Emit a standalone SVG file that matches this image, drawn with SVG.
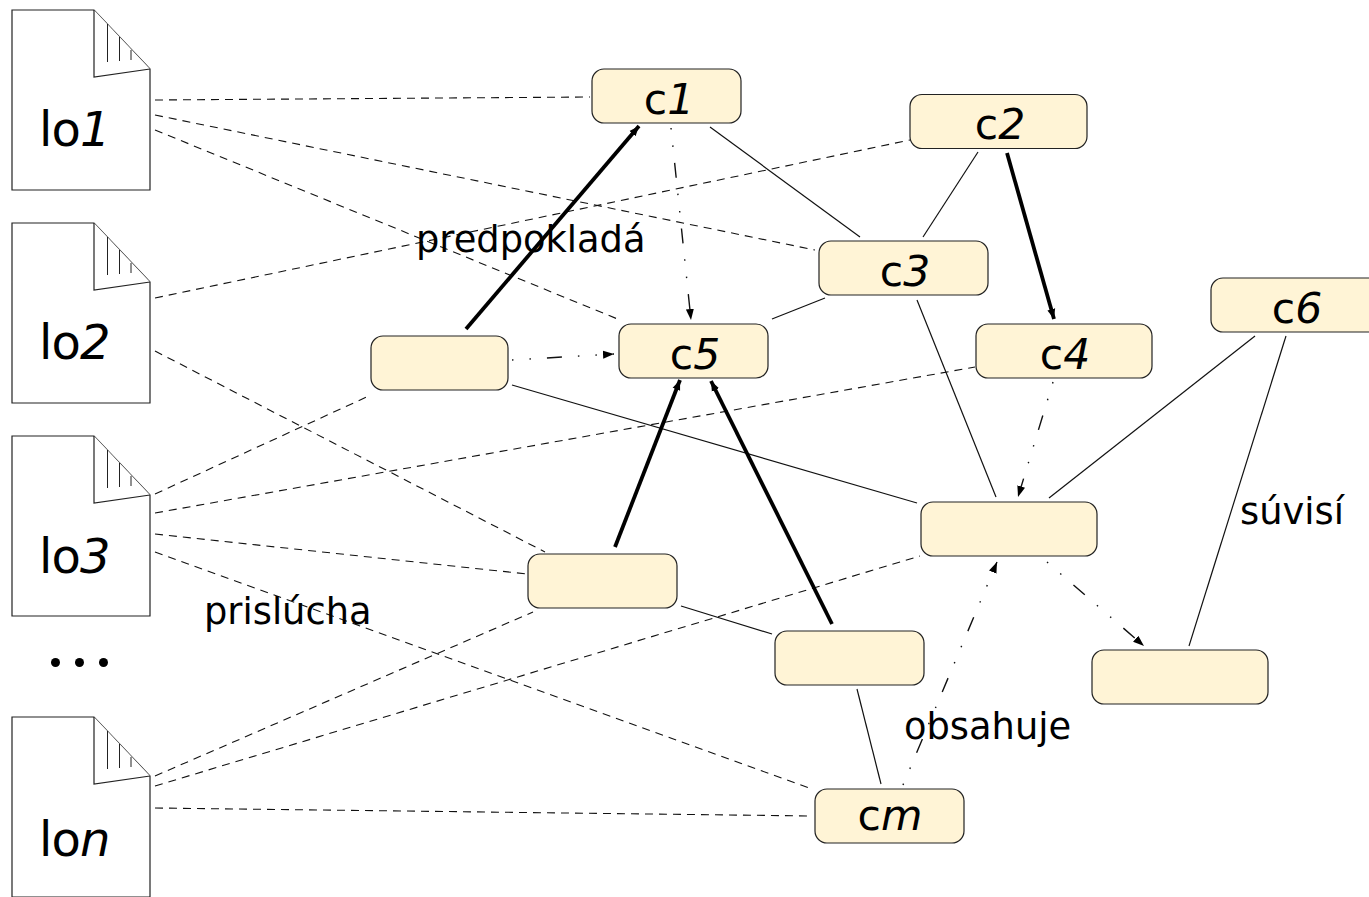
<svg xmlns="http://www.w3.org/2000/svg" width="1369" height="897" viewBox="0 0 1369 897">
<style>
text{font-family:"DejaVu Sans",sans-serif;fill:#000}
.n{font-size:42.500px;text-anchor:middle}
.d{font-size:48px;letter-spacing:-.8px}
.l{font-size:36.800px}
.it{font-style:italic}
.box{fill:#fff4d6;stroke:#222;stroke-width:1.2}
.doc{fill:#fff;stroke:#222;stroke-width:1.2;stroke-linejoin:miter}
.ln{fill:none;stroke:#222;stroke-width:1}
.dash{fill:none;stroke:#111;stroke-width:1.1;stroke-dasharray:8 6}
.thin{fill:none;stroke:#111;stroke-width:1.2}
.thick{fill:none;stroke:#000;stroke-width:3.800;marker-end:url(#ah)}
.dd{fill:none;stroke:#111;stroke-width:1.400;stroke-dasharray:1.500 16 1.500 16 15 16;marker-end:url(#as)}
</style>
<defs>
<marker id="ah" markerUnits="userSpaceOnUse" markerWidth="14" markerHeight="12" refX="10" refY="5" orient="auto"><path d="M0 1L10 5L0 9z" fill="#000"/></marker>
<marker id="as" markerUnits="userSpaceOnUse" markerWidth="14" markerHeight="12" refX="11" refY="5" orient="auto"><path d="M0 1L11 5L0 9z" fill="#000"/></marker>
<g id="docshape">
<path class="doc" d="M12 10H94L150 69V190H12z"/>
<path class="doc" d="M94 10V77L150 69"/>
<path class="ln" d="M107.500 24V62M119.500 37V61M131 50V60"/>
</g>
</defs>
<g id="connectors">
<path class="dash" d="M155 100L590 97"/>
<path class="dash" d="M155 115L815 250"/>
<path class="dash" d="M155 130L620 320"/>
<path class="dash" d="M155 298L910 140"/>
<path class="dash" d="M155 351L545 552"/>
<path class="dash" d="M155 494L371 395"/>
<path class="dash" d="M155 513L975 367"/>
<path class="dash" d="M155 534L527 574"/>
<path class="dash" d="M155 552L812 789"/>
<path class="dash" d="M155 776L533 612"/>
<path class="dash" d="M155 786L920 556"/>
<path class="dash" d="M155 808L813 816"/>
<path class="thin" d="M710 127L860 237"/>
<path class="thin" d="M978 152L923 237"/>
<path class="thin" d="M772 319L825 298"/>
<path class="thin" d="M917 300L996 497"/>
<path class="thin" d="M512 385L917 503"/>
<path class="thin" d="M1255 336L1049 498"/>
<path class="thin" d="M1286 336L1189 646"/>
<path class="thin" d="M681 606L772 634"/>
<path class="thin" d="M857 689L881 784"/>
<path class="thick" d="M466 329L639 126"/>
<path class="thick" d="M1007 153L1054 319"/>
<path class="thick" d="M615 547L680 380"/>
<path class="thick" d="M832 624L711 381"/>
<path class="dd" d="M671 128L691 320"/>
<path class="dd" d="M512 360L614 354"/>
<path class="dd" d="M1053 382L1018 497"/>
<path class="dd" d="M1047 562L1144 646"/>
<path class="dd" d="M903 785L997 562"/>
</g>
<g id="lo1"><use href="#docshape"/><text class="d" x="39" y="146">lo<tspan class="it">1</tspan></text></g>
<g id="lo2"><use href="#docshape" y="213"/><text class="d" x="39" y="359">lo<tspan class="it">2</tspan></text></g>
<g id="lo3"><use href="#docshape" y="426"/><text class="d" x="39" y="573">lo<tspan class="it">3</tspan></text></g>
<g id="lon"><use href="#docshape" y="707"/><text class="d" x="39" y="856">lo<tspan class="it">n</tspan></text></g>
<g id="dots"><circle cx="55.500" cy="662.500" r="4.500" fill="#000"/><circle cx="79.500" cy="662.500" r="4.500" fill="#000"/><circle cx="103.500" cy="662.500" r="4.500" fill="#000"/></g>
<g id="c1"><rect class="box" x="592" y="69" width="149" height="54" rx="12"/><text class="n" x="669" y="114">c<tspan class="it">1</tspan></text></g>
<g id="c2"><rect class="box" x="910" y="94.500" width="177" height="54" rx="12"/><text class="n" x="1000" y="139">c<tspan class="it">2</tspan></text></g>
<g id="c3"><rect class="box" x="819" y="241" width="169" height="54" rx="12"/><text class="n" x="905" y="286">c<tspan class="it">3</tspan></text></g>
<g id="c4"><rect class="box" x="976" y="324" width="176" height="54" rx="12"/><text class="n" x="1065" y="369">c<tspan class="it">4</tspan></text></g>
<g id="c5"><rect class="box" x="619" y="324" width="149" height="54" rx="12"/><text class="n" x="695" y="369">c<tspan class="it">5</tspan></text></g>
<g id="c6"><rect class="box" x="1211" y="278" width="170" height="54" rx="12"/><text class="n" x="1297" y="323">c<tspan class="it">6</tspan></text></g>
<g id="n1"><rect class="box" x="371" y="336" width="137" height="54" rx="12"/></g>
<g id="n2"><rect class="box" x="528" y="554" width="149" height="54" rx="12"/></g>
<g id="n3"><rect class="box" x="921" y="502" width="176" height="54" rx="12"/></g>
<g id="n4"><rect class="box" x="775" y="631" width="149" height="54" rx="12"/></g>
<g id="n5"><rect class="box" x="1092" y="650" width="176" height="54" rx="12"/></g>
<g id="cm"><rect class="box" x="815" y="789" width="149" height="54" rx="12"/><text class="n" x="890" y="830">c<tspan class="it">m</tspan></text></g>
<g id="labels">
<text class="l" x="416" y="252">predpokladá</text>
<text class="l" x="204" y="624">prislúcha</text>
<text class="l" x="904" y="739">obsahuje</text>
<text class="l" x="1240" y="524">súvisí</text>
</g>
</svg>
